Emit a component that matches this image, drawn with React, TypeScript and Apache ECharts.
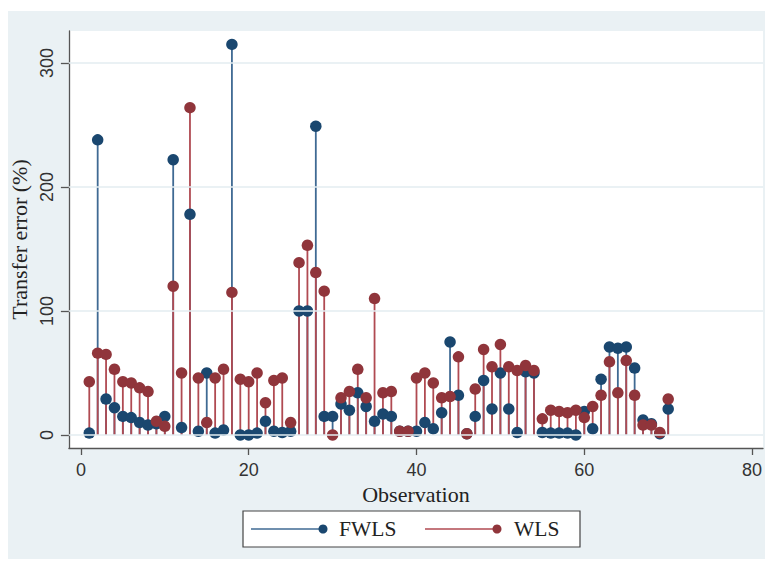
import React, { useEffect, useRef } from "react";
import * as echarts from "echarts";

const observations: number[] = Array.from({ length: 70 }, (_, i) => i + 1);
const fwls: number[] = [
  1.5, 238, 29, 22, 15, 14, 10, 8, 9, 15,
  222, 6, 178, 3, 50, 1.5, 4, 315, 0, 0,
  1.5, 11, 3, 2, 3, 100, 100, 249, 15, 15,
  25, 20, 34, 23, 11, 17, 15, 3, 3, 3,
  10, 5, 18, 75, 32, 1, 15, 44, 21, 50,
  21, 2, 51, 50, 2, 1.5, 1.5, 1.5, 0, 19,
  5, 45, 71, 70, 71, 54, 12, 9, 1, 21,
];
const wls: number[] = [
  43, 66, 65, 53, 43, 42, 38, 35, 11, 7,
  120, 50, 264, 46, 10, 46, 53, 115, 45, 43,
  50, 26, 44, 46, 10, 139, 153, 131, 116, 0,
  30, 35, 53, 30, 110, 34, 35, 3, 3, 46,
  50, 42, 30, 31, 63, 1, 37, 69, 55, 73,
  55, 52, 56, 52, 13, 20, 19, 18, 20, 14,
  23, 32, 59, 34, 60, 32, 8, 8, 2, 29,
];
const xTicks: number[] = [0, 20, 40, 60, 80];
const yTicks: number[] = [0, 100, 200, 300];
const seriesNames: string[] = ["FWLS", "WLS"];

const NAVY = "#1a476f";
const MAROON = "#90353b";
const NAVY_STEM = "#3f6a93";
const MAROON_STEM = "#b04a52";
const SERIF = "'Liberation Serif', 'Times New Roman', serif";
const SANS = "'Liberation Sans', Arial, sans-serif";

function stemSeries(name: string, values: number[], color: string) {
  return {
    type: "custom",
    name: name + "_stem",
    z: 2,
    silent: true,
    data: observations.map((o, i) => [o, values[i]]),
    renderItem: (_params: any, api: any) => {
      const x = api.value(0);
      const y = api.value(1);
      const p0 = api.coord([x, 0]);
      const p1 = api.coord([x, y]);
      return {
        type: "line",
        shape: { x1: p0[0], y1: p0[1], x2: p1[0], y2: p1[1] },
        style: { stroke: color, lineWidth: 1.8 },
      };
    },
  };
}

function dotSeries(name: string, values: number[], color: string, z: number) {
  return {
    type: "scatter",
    name,
    z,
    symbol: "circle",
    symbolSize: 11.5,
    itemStyle: { color, opacity: 1 },
    data: observations.map((o, i) => [o, values[i]]),
  };
}

export default function App() {
  const ref = useRef<HTMLDivElement>(null);
  useEffect(() => {
    document.body.style.margin = "0";
    if (!ref.current) return;
    const chart = echarts.init(ref.current, undefined, { renderer: "svg" });
    const legendY = 529;
    const legendText = {
      fontFamily: SERIF,
      fontSize: 21.5,
      fill: "#222",
      verticalAlign: "middle",
      align: "left",
    };
    chart.setOption({
      animation: false,
      backgroundColor: "#ffffff",
      grid: {
        left: 67,
        top: 31,
        width: 696,
        height: 417,
        show: true,
        backgroundColor: "#ffffff",
        borderWidth: 0,
      },
      xAxis: {
        type: "value",
        min: -1.43,
        max: 81.3,
        name: "Observation",
        nameLocation: "middle",
        nameGap: 28,
        nameTextStyle: { fontFamily: SERIF, fontSize: 22, color: "#222" },
        axisLine: { show: true, onZero: false, lineStyle: { color: "#555", width: 1.3 } },
        axisTick: { show: true, length: 7, customValues: xTicks, lineStyle: { color: "#555", width: 1.3 } },
        axisLabel: { customValues: xTicks, fontFamily: SANS, fontSize: 18, color: "#333", margin: 13 },
        splitLine: { show: false },
      },
      yAxis: {
        type: "value",
        min: -10.5,
        max: 325.8,
        name: "Transfer error (%)",
        nameLocation: "middle",
        nameRotate: 90,
        nameGap: 29,
        nameTextStyle: { fontFamily: SERIF, fontSize: 22, color: "#222" },
        axisLine: { show: true, onZero: false, lineStyle: { color: "#555", width: 1.3 } },
        axisTick: { show: true, length: 8, customValues: yTicks, lineStyle: { color: "#555", width: 1.3 } },
        axisLabel: {
          customValues: yTicks,
          rotate: 90,
          fontFamily: SANS,
          fontSize: 18,
          color: "#333",
          margin: 13,
        },
        splitLine: { show: false },
      },
      graphic: [
        {
          type: "rect",
          z: -10,
          silent: true,
          shape: { x: 8, y: 11, width: 757, height: 548 },
          style: { fill: "#eaf1f4" },
        },
        {
          type: "group",
          z: 10,
          children: [
            {
              type: "rect",
              shape: { x: 243, y: 511, width: 337, height: 36 },
              style: { fill: "#ffffff", stroke: "#444", lineWidth: 1.2 },
            },
            {
              type: "line",
              shape: { x1: 251, y1: legendY, x2: 323, y2: legendY },
              style: { stroke: NAVY_STEM, lineWidth: 1.6 },
            },
            {
              type: "circle",
              shape: { cx: 323, cy: legendY, r: 4.5 },
              style: { fill: NAVY },
            },
            {
              type: "text",
              x: 339,
              y: legendY,
              style: { ...legendText, text: seriesNames[0] },
            },
            {
              type: "line",
              shape: { x1: 425, y1: legendY, x2: 497, y2: legendY },
              style: { stroke: MAROON_STEM, lineWidth: 1.6 },
            },
            {
              type: "circle",
              shape: { cx: 497, cy: legendY, r: 4.5 },
              style: { fill: MAROON },
            },
            {
              type: "text",
              x: 514,
              y: legendY,
              style: { ...legendText, text: seriesNames[1] },
            },
          ],
        },
      ],
      series: [
        {
          type: "line",
          name: "grid",
          data: [],
          silent: true,
          z: 1,
          markLine: {
            silent: true,
            symbol: "none",
            label: { show: false },
            lineStyle: { color: "#e3ecf0", width: 1.5, type: "solid" },
            data: yTicks.map((v) => ({ yAxis: v })),
          },
        },
        stemSeries(seriesNames[0], fwls, NAVY_STEM),
        stemSeries(seriesNames[1], wls, MAROON_STEM),
        dotSeries(seriesNames[0], fwls, NAVY, 3),
        dotSeries(seriesNames[1], wls, MAROON, 4),
      ],
    });
    return () => chart.dispose();
  }, []);
  return <div ref={ref} style={{ width: 774, height: 566 }} />;
}
